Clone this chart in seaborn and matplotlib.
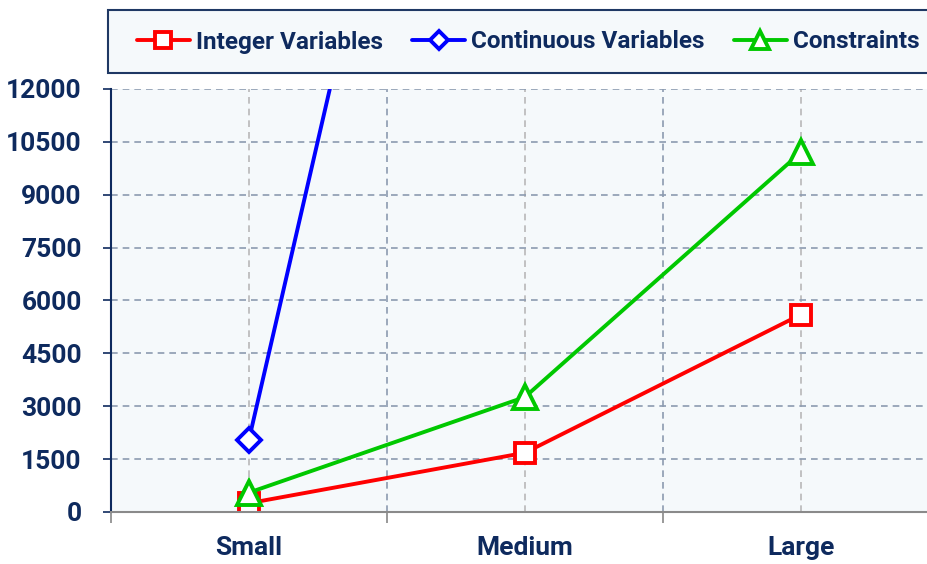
import pandas as pd
import seaborn as sns
import matplotlib.pyplot as plt
from matplotlib.patches import Rectangle
from matplotlib.ticker import FixedLocator

# --- data ---
sizes = ["Small", "Medium", "Large"]
integer_vars = [250, 1680, 5600]
continuous_vars = [2050, 36000, 80000]
constraints = [550, 3260, 10200]
y_ticks = [0, 1500, 3000, 4500, 6000, 7500, 9000, 10500, 12000]

navy = "#0E2A5E"
grid_col = "#8C9BB0"

sns.set_theme(style="white")
plt.rcParams["font.family"] = ["Roboto", "DejaVu Sans"]
plt.rcParams["font.weight"] = "bold"

df = pd.DataFrame({
    "size": sizes * 3,
    "value": integer_vars + continuous_vars + constraints,
    "series": ["Integer Variables"] * 3 + ["Continuous Variables"] * 3 + ["Constraints"] * 3,
})

styles = {
    "Integer Variables": ("#FF0000", "s", 15),
    "Continuous Variables": ("#0000FF", "D", 12),
    "Constraints": ("#00C800", "^", 17),
}

fig = plt.figure(figsize=(9.27, 5.64), dpi=100)
ax = fig.add_axes([0.1197, 0.0922, 0.893, 0.75])
ax.set_facecolor("#F5F9FB")

for name, (col, mk, ms) in styles.items():
    sub = df[df["series"] == name]
    sns.lineplot(data=sub, x="size", y="value", ax=ax, color=col, lw=2.8,
                 marker=mk, ms=ms, mfc="white", mec=col, mew=2.8, label=name)

ax.set_xlim(-0.5, 2.5)
ax.set_ylim(0, 12000)
ax.set_yticks(y_ticks)
ax.set_xticks(range(len(sizes)))
ax.set_xticklabels(sizes)
ax.xaxis.set_minor_locator(FixedLocator([-0.5, 0.5, 1.5, 2.5]))
ax.set_xlabel("")
ax.set_ylabel("")

ax.grid(axis="y", color=grid_col, ls=(0, (4, 3)), lw=1.2)
ax.grid(axis="x", which="major", color="#B8B8B8", ls=(0, (4, 3)), lw=1.2)
ax.grid(axis="x", which="minor", color=grid_col, ls=(0, (4, 3)), lw=1.2)

ax.tick_params(axis="y", length=6, width=1.2, color=navy, pad=15,
               labelsize=19, labelcolor=navy, left=True)
ax.tick_params(axis="x", which="major", length=0, pad=17, labelsize=19, labelcolor=navy)
ax.tick_params(axis="x", which="minor", length=8, width=1.2, color="#888888", bottom=True)
for lbl in ax.get_xticklabels() + ax.get_yticklabels():
    lbl.set_fontweight("bold")

for s in ["top", "right"]:
    ax.spines[s].set_visible(False)
ax.spines["left"].set_color(navy)
ax.spines["left"].set_linewidth(1.5)
ax.spines["bottom"].set_color("#8A8A8A")
ax.spines["bottom"].set_linewidth(1.5)

# legend box, runs off the right edge like the original
fig.patches.append(Rectangle((108 / 927, 1 - 73 / 564), 0.95, 63 / 564,
                             transform=fig.transFigure, facecolor="#F5F9FB",
                             edgecolor="#1F3864", lw=1.5, zorder=0))
handles, labels = ax.get_legend_handles_labels()
ax.get_legend().remove()
fig.legend(handles, labels, loc="center left", bbox_to_anchor=(137 / 927, 1 - 42 / 564),
           ncol=3, frameon=False, prop={"size": 17.5, "weight": "bold"},
           labelcolor=navy, handlelength=2.18, handletextpad=0.25, columnspacing=1.2,
           borderpad=0, borderaxespad=0, markerscale=0.75)

fig.savefig("out.png", dpi=100)
